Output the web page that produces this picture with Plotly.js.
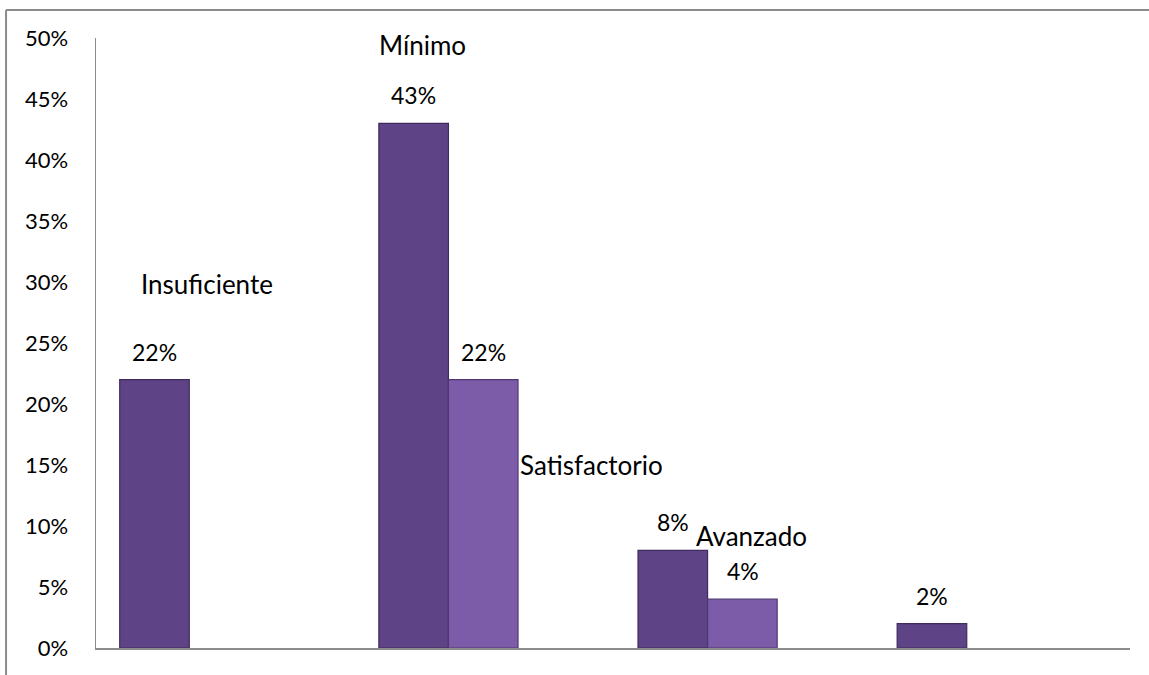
<!DOCTYPE html>
<html>
<head>
<meta charset="utf-8">
<script src="https://cdn.plot.ly/plotly-3.0.1.min.js"></script>
<style>html,body{margin:0;padding:0;background:#fff;}#chart{width:1149px;height:675px;}</style>
</head>
<body>
<div id="chart"></div>
<script>
var categories = ["C1", "C2", "C3", "C4"];
var seriesA = [22, 43, 8, 2];
var seriesB = [null, 22, 4, null];
var levelLabels = ["Insuficiente", "Mínimo", "Satisfactorio", "Avanzado"];
var yTicks = [0, 5, 10, 15, 20, 25, 30, 35, 40, 45, 50];

var FONT = "Lato, 'Open Sans', sans-serif";

var traceA = {
  type: "bar", x: categories, y: seriesA,
  marker: {color: "#5e4486", line: {color: "#3f2b5c", width: 1.2}},
  hoverinfo: "skip"
};
var traceB = {
  type: "bar", x: categories, y: seriesB,
  marker: {color: "#7c5ba9", line: {color: "#4f3872", width: 1.2}},
  hoverinfo: "skip"
};

var annotations = [];
[[seriesA, -35], [seriesB, 35]].forEach(function (s) {
  s[0].forEach(function (v, i) {
    if (v === null) return;
    annotations.push({text: v + "%", x: categories[i], y: v, xref: "x", yref: "y",
      xshift: s[1], yshift: 12, xanchor: "center", yanchor: "bottom", showarrow: false,
      font: {family: FONT, size: 23, color: "#000"}});
  });
});

var annPos = [
  {x: 0.07, y: 29.8, xanchor: "center"},
  {x: 0.90, y: 49.4, xanchor: "center"},
  {x: 1.27, y: 15.0, xanchor: "left"},
  {x: 2.17, y: 9.2, xanchor: "center"}
];
levelLabels.forEach(function (t, i) {
  annotations.push({text: t, x: annPos[i].x, y: annPos[i].y, xref: "x", yref: "y",
    xanchor: annPos[i].xanchor, yanchor: "middle", showarrow: false,
    font: {family: FONT, size: 26, color: "#000"}});
});

var layout = {
  width: 1149, height: 675,
  margin: {l: 96, r: 19, t: 38, b: 27},
  paper_bgcolor: "#fff", plot_bgcolor: "#fff",
  showlegend: false,
  barmode: "group", bargap: 0.463, bargroupgap: 0,
  xaxis: {type: "category", range: [-0.36, 3.63], showticklabels: false,
    showline: true, linecolor: "#8c8c8c", linewidth: 1.5, ticks: "", showgrid: false, zeroline: false, fixedrange: true},
  yaxis: {range: [0, 50], tickvals: yTicks, ticktext: yTicks.map(function (v) { return v + "%"; }),
    showline: true, linecolor: "#8c8c8c", linewidth: 1.5, ticks: "", showgrid: false, zeroline: false,
    ticklabelstandoff: 22,
    tickfont: {family: FONT, size: 22, color: "#000"}, fixedrange: true},
  annotations: annotations,
  shapes: [
    {type: "line", xref: "paper", yref: "paper", x0: -0.087, x1: 1.1, y0: 1.046, y1: 1.046, line: {color: "#8c8c8c", width: 2}},
    {type: "line", xref: "paper", yref: "paper", x0: -0.087, x1: -0.087, y0: 1.046, y1: -0.1, line: {color: "#8c8c8c", width: 2}}
  ]
};

Plotly.newPlot("chart", [traceA, traceB], layout, {displayModeBar: false, staticPlot: true});
</script>
</body>
</html>
